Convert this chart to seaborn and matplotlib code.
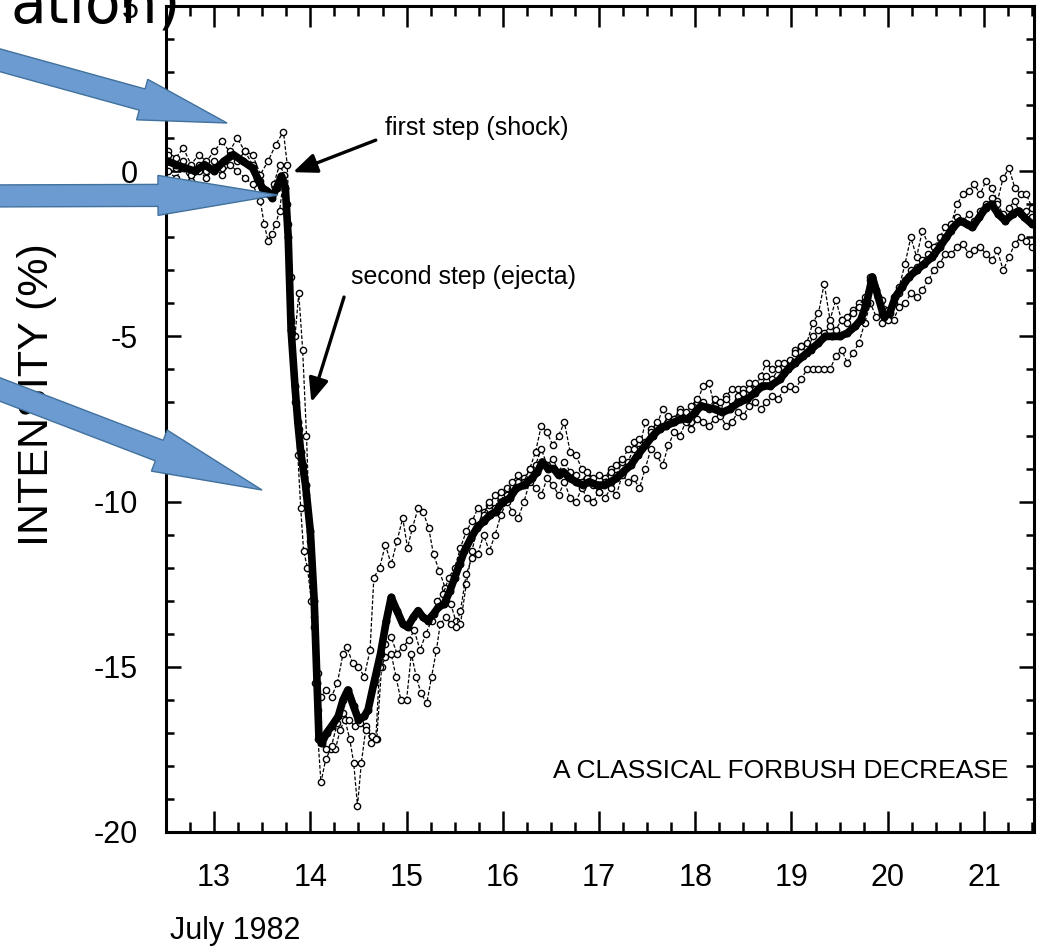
import numpy as np
import pandas as pd
import matplotlib
matplotlib.use("Agg")
import matplotlib.pyplot as plt
from matplotlib.patches import Polygon
from matplotlib.ticker import MultipleLocator
import seaborn as sns

# ---------------- data: cosmic-ray intensity, July 1982 ----------------
# station average (heavy curve)
avg_day = [12.52, 12.60, 12.70, 12.80, 12.90, 13.00, 13.10, 13.20, 13.30, 13.40,
           13.45, 13.50, 13.55, 13.60, 13.65, 13.70, 13.74, 13.77, 13.80, 13.84,
           13.87, 13.90, 13.95, 14.00, 14.04, 14.07, 14.09, 14.12, 14.17, 14.22,
           14.29, 14.34, 14.39, 14.45, 14.50, 14.56, 14.60, 14.66, 14.73, 14.79,
           14.84, 14.90, 14.96, 15.01, 15.07, 15.12, 15.17, 15.22, 15.28, 15.33,
           15.39, 15.45, 15.50, 15.55, 15.60, 15.67, 15.73, 15.80, 15.87, 15.93,
           16.00, 16.07, 16.14, 16.22, 16.30, 16.36, 16.41, 16.47, 16.53, 16.58,
           16.63, 16.70, 16.76, 16.83, 16.90, 16.98, 17.05, 17.12, 17.18, 17.25,
           17.33, 17.40, 17.48, 17.56, 17.63, 17.70, 17.78, 17.85, 17.92, 18.00,
           18.06, 18.12, 18.20, 18.28, 18.36, 18.45, 18.54, 18.62, 18.70, 18.78,
           18.88, 18.96, 19.04, 19.12, 19.20, 19.28, 19.35, 19.42, 19.50, 19.58,
           19.66, 19.72, 19.78, 19.84, 19.90, 19.96, 20.02, 20.08, 20.15, 20.22,
           20.30, 20.38, 20.46, 20.54, 20.61, 20.68, 20.75, 20.82, 20.88, 20.95,
           21.02, 21.08, 21.15, 21.22, 21.30, 21.36, 21.42, 21.50]
avg_val = [0.3, 0.2, 0.1, 0.0, 0.2, 0.0, 0.3, 0.5, 0.3, 0.1,
           -0.2, -0.5, -0.6, -0.8, -0.5, -0.15, -0.5, -2.0, -4.8, -6.5,
           -7.6, -8.5, -9.5, -10.9, -13.0, -15.5, -17.2, -17.3, -17.0, -16.8,
           -16.5, -16.0, -15.7, -16.2, -16.6, -16.5, -16.3, -15.5, -14.6, -13.6,
           -12.9, -13.3, -13.7, -13.8, -13.5, -13.3, -13.5, -13.6, -13.4, -13.2,
           -13.1, -12.7, -12.3, -11.9, -11.5, -11.1, -10.8, -10.6, -10.4, -10.3,
           -10.0, -9.9, -9.6, -9.5, -9.3, -9.1, -8.8, -9.0, -9.0, -9.2,
           -9.1, -9.3, -9.4, -9.5, -9.4, -9.5, -9.5, -9.4, -9.3, -9.1,
           -8.9, -8.6, -8.3, -8.0, -7.8, -7.7, -7.6, -7.5, -7.5, -7.3,
           -7.1, -7.15, -7.2, -7.3, -7.2, -7.0, -6.9, -6.7, -6.5, -6.5,
           -6.3, -6.0, -5.8, -5.6, -5.4, -5.2, -5.0, -5.0, -5.0, -4.9,
           -4.7, -4.5, -4.0, -3.2, -3.8, -4.4, -4.3, -3.8, -3.5, -3.2,
           -3.0, -2.8, -2.6, -2.3, -2.0, -1.7, -1.5, -1.6, -1.7, -1.4,
           -1.1, -1.0, -1.3, -1.5, -1.3, -1.2, -1.4, -1.6]

# individual stations (light curves)
sta_a_day = [12.52, 12.60, 12.68, 12.76, 12.84, 12.92, 13.00, 13.08, 13.16, 13.24,
             13.32, 13.40, 13.48, 13.56, 13.64, 13.72, 13.76, 13.80, 13.84, 13.88,
             13.92, 13.96, 14.00, 14.04, 14.08, 14.11, 14.16, 14.22, 14.28, 14.34,
             14.38, 14.44, 14.50, 14.56, 14.62, 14.66, 14.72, 14.78, 14.84, 14.90,
             14.96, 15.01, 15.06, 15.12, 15.17, 15.23, 15.28, 15.34, 15.40, 15.46,
             15.51, 15.56, 15.62, 15.68, 15.74, 15.80, 15.86, 15.92, 15.98, 16.04,
             16.10, 16.16, 16.22, 16.28, 16.34, 16.40, 16.46, 16.52, 16.58, 16.64,
             16.70, 16.76, 16.82, 16.88, 16.94, 17.00, 17.06, 17.12, 17.18, 17.24,
             17.30, 17.36, 17.42, 17.48, 17.54, 17.60, 17.66, 17.72, 17.78, 17.84,
             17.90, 17.96, 18.02, 18.08, 18.14, 18.20, 18.26, 18.32, 18.38, 18.44,
             18.50, 18.56, 18.62, 18.68, 18.74, 18.80, 18.86, 18.92, 18.98, 19.04,
             19.10, 19.16, 19.22, 19.28, 19.34, 19.40, 19.46, 19.52, 19.58, 19.64,
             19.70, 19.76, 19.82, 19.88, 19.94, 20.00, 20.06, 20.12, 20.18, 20.24,
             20.30, 20.36, 20.42, 20.48, 20.54, 20.60, 20.66, 20.72, 20.78, 20.84,
             20.90, 20.96, 21.02, 21.08, 21.14, 21.20, 21.26, 21.32, 21.38, 21.44,
             21.50]
sta_a_val = [0.6, 0.4, 0.7, 0.2, 0.5, 0.3, 0.6, 0.9, 0.6, 1.0,
             0.6, 0.5, -0.1, 0.3, 0.8, 1.2, 0.2, -3.2, -5.0, -3.7,
             -5.4, -8.0, -11.5, -13.8, -15.2, -15.9, -15.7, -15.9, -15.5, -14.6,
             -14.4, -14.9, -15.0, -15.3, -14.5, -12.3, -12.0, -11.3, -11.9, -11.2,
             -10.5, -11.4, -10.8, -10.2, -10.3, -10.8, -11.6, -12.1, -12.6, -13.1,
             -13.6, -13.7, -12.5, -11.5, -10.7, -10.3, -10.1, -9.8, -10.0, -9.6,
             -9.7, -9.4, -9.3, -9.0, -8.5, -7.7, -7.9, -8.3, -8.0, -7.6,
             -8.5, -8.6, -9.0, -9.3, -9.5, -9.7, -9.3, -9.0, -9.2, -8.8,
             -8.4, -8.2, -8.4, -7.6, -7.8, -7.7, -7.2, -7.6, -7.5, -7.2,
             -7.4, -7.6, -7.0, -6.5, -6.4, -7.1, -7.3, -6.8, -6.6, -6.6,
             -6.6, -6.4, -6.6, -6.2, -5.8, -6.0, -5.8, -6.1, -5.7, -5.4,
             -5.3, -5.2, -4.6, -4.3, -3.4, -4.5, -3.9, -4.5, -4.4, -4.2,
             -4.0, -3.9, -3.3, -3.6, -3.9, -4.2, -3.8, -3.5, -2.8, -2.0,
             -2.6, -1.8, -2.2, -2.3, -2.0, -1.7, -1.6, -1.0, -0.7, -0.6,
             -0.4, -0.7, -0.3, -0.5, -0.9, -0.2, 0.1, -0.5, -0.7, -0.7,
             -1.1]

sta_b_day = [12.52, 12.60, 12.68, 12.76, 12.84, 12.92, 13.00, 13.08, 13.16, 13.24,
             13.32, 13.40, 13.48, 13.52, 13.56, 13.60, 13.64, 13.68, 13.72, 13.76,
             13.80, 13.84, 13.87, 13.90, 13.93, 13.97, 14.01, 14.05, 14.08, 14.11,
             14.16, 14.21, 14.26, 14.31, 14.36, 14.41, 14.45, 14.49, 14.53, 14.58,
             14.63, 14.69, 14.74, 14.78, 14.84, 14.89, 14.94, 15.00, 15.05, 15.10,
             15.15, 15.21, 15.26, 15.31, 15.35, 15.41, 15.46, 15.51, 15.56, 15.62,
             15.68, 15.74, 15.80, 15.86, 15.92, 15.98, 16.04, 16.10, 16.16, 16.22,
             16.28, 16.34, 16.40, 16.46, 16.52, 16.58, 16.64, 16.70, 16.76, 16.82,
             16.88, 16.94, 17.00, 17.06, 17.12, 17.18, 17.24, 17.30, 17.36, 17.42,
             17.48, 17.54, 17.60, 17.66, 17.72, 17.78, 17.84, 17.90, 17.96, 18.02,
             18.08, 18.14, 18.20, 18.26, 18.32, 18.38, 18.44, 18.50, 18.56, 18.62,
             18.68, 18.74, 18.80, 18.86, 18.92, 18.98, 19.04, 19.10, 19.16, 19.22,
             19.28, 19.34, 19.40, 19.46, 19.52, 19.58, 19.64, 19.70, 19.76, 19.82,
             19.88, 19.94, 20.00, 20.06, 20.12, 20.18, 20.24, 20.30, 20.36, 20.42,
             20.48, 20.54, 20.60, 20.66, 20.72, 20.78, 20.84, 20.90, 20.96, 21.02,
             21.08, 21.14, 21.20, 21.26, 21.32, 21.38, 21.44, 21.50]
sta_b_val = [0.0, -0.2, 0.1, -0.3, 0.0, -0.2, 0.1, -0.1, 0.2, 0.0,
             -0.2, -0.4, -0.9, -1.6, -2.1, -1.9, -1.6, -1.2, -0.3, -1.0,
             -4.5, -7.0, -8.6, -10.2, -11.5, -12.0, -13.0, -15.5, -17.2, -18.5,
             -17.8, -17.5, -17.5, -16.9, -16.6, -17.2, -17.9, -19.2, -17.9, -16.8,
             -17.3, -17.2, -15.0, -14.7, -14.6, -15.3, -16.0, -16.0, -14.6, -15.3,
             -15.8, -16.1, -15.3, -14.5, -13.7, -13.5, -13.7, -13.8, -13.3, -12.2,
             -11.7, -11.6, -11.0, -11.5, -11.0, -10.4, -10.0, -10.3, -10.5, -10.0,
             -9.4, -9.6, -9.8, -9.3, -9.5, -9.8, -9.4, -9.9, -10.0, -9.6,
             -9.9, -10.0, -9.7, -9.9, -9.6, -9.8, -9.2, -9.4, -9.3, -9.6,
             -9.0, -8.4, -8.6, -8.9, -8.3, -7.9, -8.0, -7.6, -7.8, -7.5,
             -7.6, -7.7, -7.5, -7.4, -7.7, -7.6, -7.3, -7.4, -7.1, -7.0,
             -7.2, -7.0, -6.8, -6.9, -6.6, -6.5, -6.6, -6.3, -6.0, -6.0,
             -6.0, -6.0, -6.0, -5.6, -5.4, -5.8, -5.5, -5.2, -4.6, -4.0,
             -4.4, -4.6, -4.4, -4.5, -4.1, -4.0, -3.7, -3.8, -3.6, -3.3,
             -3.0, -2.8, -2.5, -2.5, -2.3, -2.2, -2.5, -2.4, -2.3, -2.5,
             -2.7, -2.4, -3.0, -2.6, -2.2, -2.0, -2.1, -2.3]

sta_c_day = [12.52, 12.60, 12.68, 12.76, 12.84, 12.92, 13.00, 13.08, 13.16, 13.24,
             13.32, 13.40, 13.48, 13.56, 13.62, 13.68, 13.73, 13.77, 13.81, 13.85,
             13.88, 13.92, 13.96, 14.00, 14.04, 14.08, 14.11, 14.16, 14.22, 14.28,
             14.34, 14.40, 14.46, 14.52, 14.58, 14.64, 14.68, 14.72, 14.78, 14.84,
             14.90, 14.96, 15.02, 15.08, 15.14, 15.20, 15.26, 15.32, 15.38, 15.44,
             15.50, 15.56, 15.62, 15.68, 15.74, 15.80, 15.86, 15.92, 15.98, 16.04,
             16.10, 16.16, 16.22, 16.28, 16.34, 16.40, 16.46, 16.52, 16.58, 16.64,
             16.70, 16.76, 16.82, 16.88, 16.94, 17.00, 17.06, 17.12, 17.18, 17.24,
             17.30, 17.36, 17.42, 17.48, 17.54, 17.60, 17.66, 17.72, 17.78, 17.84,
             17.90, 17.96, 18.02, 18.08, 18.14, 18.20, 18.26, 18.32, 18.38, 18.44,
             18.50, 18.56, 18.62, 18.68, 18.74, 18.80, 18.86, 18.92, 18.98, 19.04,
             19.10, 19.16, 19.22, 19.28, 19.34, 19.40, 19.46, 19.52, 19.58, 19.64,
             19.70, 19.76, 19.82, 19.88, 19.94, 20.00, 20.06, 20.12, 20.18, 20.24,
             20.30, 20.36, 20.42, 20.48, 20.54, 20.60, 20.66, 20.72, 20.78, 20.84,
             20.90, 20.96, 21.02, 21.08, 21.14, 21.20, 21.26, 21.32, 21.38, 21.44,
             21.50]
sta_c_val = [0.5, 0.1, 0.3, -0.1, 0.2, 0.0, 0.3, 0.1, 0.5, 0.3,
             0.6, 0.2, -0.3, -0.7, -0.4, 0.2, -0.1, -1.6, -4.9, -7.0,
             -7.8, -8.9, -9.8, -11.2, -13.5, -16.3, -17.3, -17.5, -17.4, -16.7,
             -16.4, -16.6, -16.8, -16.7, -16.9, -17.1, -17.2, -15.0, -14.3, -14.1,
             -14.6, -14.4, -14.2, -13.9, -14.5, -14.0, -13.6, -13.0, -12.8, -12.3,
             -12.0, -11.4, -10.9, -10.6, -10.2, -10.4, -10.0, -10.2, -9.7, -9.8,
             -9.4, -9.2, -9.4, -9.0, -8.9, -8.4, -8.9, -8.7, -9.1, -8.8,
             -9.1, -9.2, -9.4, -9.1, -9.3, -9.2, -9.4, -9.1, -8.9, -8.7,
             -8.8, -8.4, -8.1, -8.2, -7.9, -7.6, -7.7, -7.4, -7.5, -7.3,
             -7.3, -7.1, -6.9, -7.0, -7.2, -6.9, -7.0, -6.9, -7.1, -6.8,
             -6.7, -6.6, -6.4, -6.5, -6.2, -6.3, -6.0, -5.8, -5.9, -5.5,
             -5.3, -5.5, -5.0, -4.8, -4.9, -4.7, -4.8, -4.5, -4.6, -4.3,
             -4.1, -3.8, -3.2, -3.6, -4.3, -4.5, -4.0, -3.7, -3.3, -3.0,
             -2.9, -2.7, -2.5, -2.5, -2.2, -2.0, -1.8, -1.4, -1.5, -1.3,
             -1.5, -1.2, -1.0, -0.8, -1.0, -1.3, -1.1, -0.9, -1.3, -1.2,
             -1.4]

x_ticks = [13, 14, 15, 16, 17, 18, 19, 20, 21]
y_ticks = [-20, -15, -10, -5, 0, 5]

# ---------------- figure ----------------
sns.set_theme(style="white")
plt.rcParams["font.family"] = ["Liberation Sans", "DejaVu Sans"]
plt.rcParams["axes.unicode_minus"] = False

W, H = 1043, 951
fig = plt.figure(figsize=(W / 100, H / 100), dpi=100)
fig.patch.set_facecolor("white")


def fx(px):
    return px / W


def fy(py):
    return 1 - py / H


ax = fig.add_axes([fx(166), fy(832), fx(1034) - fx(166), fy(6) - fy(832)])
ax.set_facecolor("white")

stations = pd.concat([
    pd.DataFrame({"day": sta_a_day, "intensity": sta_a_val, "station": "A"}),
    pd.DataFrame({"day": sta_b_day, "intensity": sta_b_val, "station": "B"}),
    pd.DataFrame({"day": sta_c_day, "intensity": sta_c_val, "station": "C"}),
])
average = pd.DataFrame({"day": avg_day, "intensity": avg_val})

for name, grp in stations.groupby("station"):
    sns.lineplot(data=grp, x="day", y="intensity", ax=ax, estimator=None,
                 sort=False, color="black", linewidth=0.9,
                 marker="o", markersize=4.5, markerfacecolor="white",
                 markeredgecolor="black", markeredgewidth=1.0)
for line in ax.lines:
    line.set_dashes([3, 1.5])

sns.lineplot(data=average, x="day", y="intensity", ax=ax, estimator=None,
             sort=False, color="black", linewidth=5.5, marker="o",
             markersize=5, markeredgecolor="black", markerfacecolor="black")

ax.set_xlim(12.5, 21.52)
ax.set_ylim(-20, 5)
ax.set_xticks(x_ticks)
ax.set_yticks(y_ticks)
ax.xaxis.set_minor_locator(MultipleLocator(0.25))
ax.yaxis.set_minor_locator(MultipleLocator(1))
ax.set_xlabel("")
ax.set_ylabel("")
for s in ax.spines.values():
    s.set_visible(True)
    s.set_color("black")
    s.set_linewidth(2.2)
ax.tick_params(axis="both", which="both", direction="in", colors="black",
               top=True, right=True, bottom=True, left=True, width=1.8)
ax.tick_params(axis="x", which="major", length=15, labelsize=22, pad=22)
ax.tick_params(axis="x", which="minor", length=7.5)
ax.tick_params(axis="y", which="major", length=11, labelsize=22, pad=20)
ax.tick_params(axis="y", which="minor", length=6)

# annotations inside the plot
ax.annotate("", xy=(13.82, -0.03), xytext=(14.68, 0.94),
            arrowprops=dict(arrowstyle="-|>,head_length=1.2,head_width=0.5",
                            color="black", lw=2.4, shrinkA=0, shrinkB=0))
ax.text(14.78, 1.3, "first step (shock)", fontsize=18,
        ha="left", va="center", color="black")
ax.annotate("", xy=(14.01, -6.99), xytext=(14.35, -3.81),
            arrowprops=dict(arrowstyle="-|>,head_length=1.2,head_width=0.5",
                            color="black", lw=2.4, shrinkA=0, shrinkB=0))
ax.text(14.42, -3.2, "second step (ejecta)", fontsize=18,
        ha="left", va="center", color="black")
ax.text(21.25, -18.15, "A CLASSICAL FORBUSH DECREASE", fontsize=19,
        ha="right", va="center", color="black")

fig.text(fx(37), fy(395), "INTENSITY (%)", rotation=90, fontsize=31,
         ha="center", va="center", color="black")
fig.text(fx(170), fy(931), "July 1982", fontsize=22, ha="left",
         va="center", color="black")

# slide title fragment above the plot
fig.text(fx(10), fy(22), "ation)", fontsize=42, family=["DejaVu Sans"],
         ha="left", va="baseline", color="black")


# pointer arrows laid over the figure
def block_arrow(tail, tip, body_w, head_w, head_len):
    t = np.array(tail, float)
    p = np.array(tip, float)
    d = p - t
    d /= np.hypot(*d)
    n = np.array([-d[1], d[0]])
    base = p - d * head_len
    pts = [t + n * body_w / 2, base + n * body_w / 2, base + n * head_w / 2, p,
           base - n * head_w / 2, base - n * body_w / 2, t - n * body_w / 2]
    verts = [(fx(x), fy(y)) for x, y in pts]
    fig.add_artist(Polygon(verts, closed=True, transform=fig.transFigure,
                           facecolor="#6c9bd2", edgecolor="#41719c",
                           linewidth=1.0, zorder=10))


block_arrow((-30, 52), (227, 123), 22, 42, 88)
block_arrow((-30, 196), (278, 195), 22, 40, 120)
block_arrow((-30, 378), (262, 490), 22, 44, 110)

fig.savefig("out.png", dpi=100, facecolor="white")
